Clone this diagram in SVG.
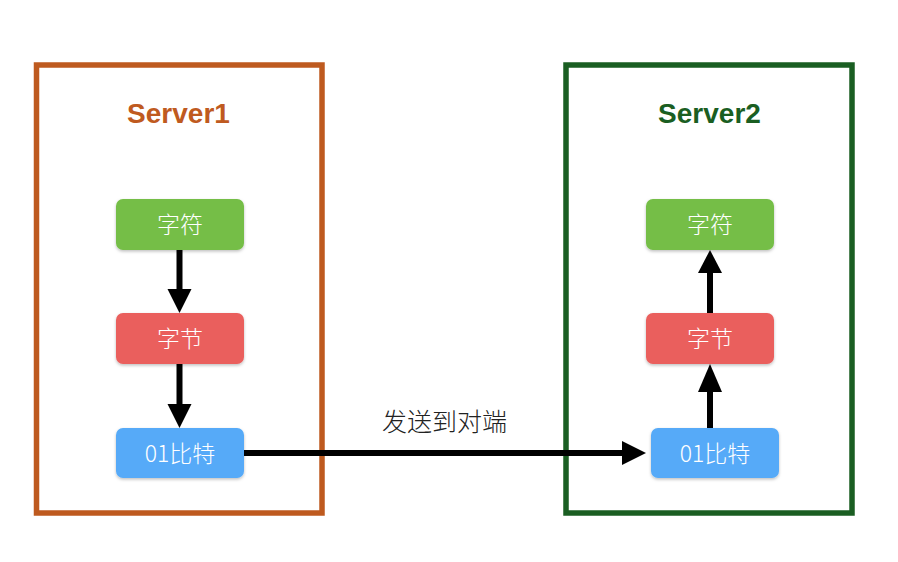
<svg xmlns="http://www.w3.org/2000/svg" width="898" height="562" viewBox="0 0 898 562">
<style>
.box{fill:none;stroke-width:5.5}
.title{font-family:"Liberation Sans",Arial,sans-serif;font-weight:bold;font-size:28px;text-anchor:middle}
.node rect{filter:url(#sh)}
.nt{font-family:"Noto Sans CJK SC","Liberation Sans",sans-serif;font-weight:300;font-size:23px;fill:#ffffff;text-anchor:middle}
.lbl{font-family:"Noto Sans CJK SC","Liberation Sans",sans-serif;font-weight:300;font-size:25px;fill:#222;text-anchor:middle}
.ln{stroke:#000;stroke-width:6;fill:none}
</style>
<defs>
<filter id="sh" x="-10%" y="-10%" width="120%" height="140%">
<feDropShadow dx="0" dy="1.5" stdDeviation="1.5" flood-color="#000" flood-opacity="0.25"/>
</filter>
</defs>
<rect width="898" height="562" fill="#ffffff"/>
<g id="server1">
<rect class="box" x="36.5" y="65" width="285.5" height="448" stroke="#BE5A1F"/>
<text class="title" x="178.5" y="123" fill="#BF5A20">Server1</text>
</g>
<g id="server2">
<rect class="box" x="566" y="65" width="286" height="448" stroke="#1A5E22"/>
<text class="title" x="709.5" y="123" fill="#1A5E22">Server2</text>
</g>
<g id="s1-char" class="node"><rect x="116" y="199" width="128" height="51" rx="7" fill="#74BE47"/><text class="nt" x="180" y="233">字符</text></g>
<g id="s1-byte" class="node"><rect x="116" y="313" width="128" height="51" rx="7" fill="#EA5F5D"/><text class="nt" x="180" y="347">字节</text></g>
<g id="s1-bit" class="node"><rect x="116" y="428" width="128" height="50" rx="7" fill="#56AAF8"/><text class="nt" x="180" y="462">01比特</text></g>
<g id="s2-char" class="node"><rect x="646" y="199" width="128" height="51" rx="7" fill="#74BE47"/><text class="nt" x="710" y="233">字符</text></g>
<g id="s2-byte" class="node"><rect x="646" y="313" width="128" height="51" rx="7" fill="#EA5F5D"/><text class="nt" x="710" y="347">字节</text></g>
<g id="s2-bit" class="node"><rect x="651" y="428" width="128" height="50" rx="7" fill="#56AAF8"/><text class="nt" x="715" y="462">01比特</text></g>
<g id="connectors">
<line class="ln" x1="179.5" y1="250" x2="179.5" y2="290"/>
<polygon points="167.5,289 191.5,289 179.5,313"/>
<line class="ln" x1="179.5" y1="364" x2="179.5" y2="405"/>
<polygon points="167.5,404 191.5,404 179.5,428"/>
<line class="ln" x1="244" y1="453" x2="623" y2="453"/>
<polygon points="622,441 622,465 646,453"/>
<line class="ln" x1="710" y1="313" x2="710" y2="272"/>
<polygon points="698,273 722,273 710,250"/>
<line class="ln" x1="710" y1="428" x2="710" y2="391"/>
<polygon points="698,392 722,392 710,364"/>
<text class="lbl" x="444.5" y="431">发送到对端</text>
</g>
</svg>
